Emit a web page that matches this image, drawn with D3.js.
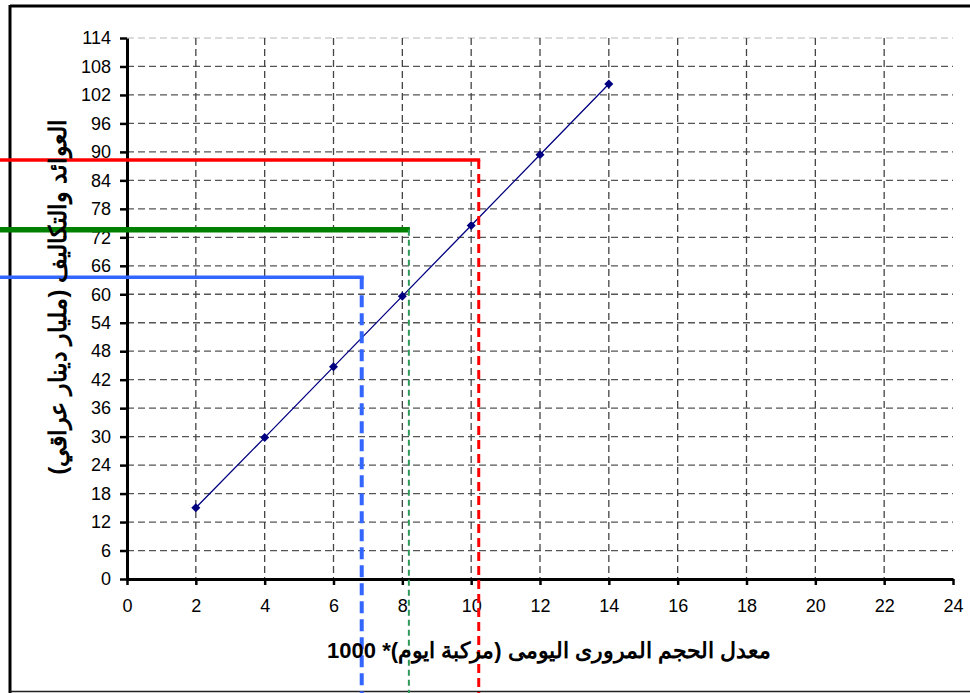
<!DOCTYPE html>
<html><head><meta charset="utf-8">
<script src="https://cdn.jsdelivr.net/npm/d3@7"></script>
<style>body{margin:0;background:#fff}svg{display:block}</style>
</head><body><svg id="c" width="970" height="693"></svg>
<script>
const xValues = [2, 4, 6, 8, 10, 12, 14];
const yValues = [15, 29.8, 44.7, 59.6, 74.5, 89.4, 104.3];
const xTicks = [0,2,4,6,8,10,12,14,16,18,20,22,24];
const yTicks = [0,6,12,18,24,30,36,42,48,54,60,66,72,78,84,90,96,102,108,114];
const guides = [
  {name:"blue",  x:6.82,  y:63.6},
  {name:"green", x:8.19,  y:73.6},
  {name:"red",   x:10.22, y:88.3}
];
const xTitle = "معدل الحجم المرورى اليومى (مركبة ايوم)* 1000";
const yTitle = "العوائد والتكاليف (مليار دينار عراقي)";

const svg = d3.select("#c");
const L=127, R=953, T=38, B=579;
const x = d3.scaleLinear().domain([0,24]).range([L,R]);
const y = d3.scaleLinear().domain([0,114]).range([B,T]);
const font = "'Liberation Sans', Arial, sans-serif";

// outer frame
svg.append("line").attr("x1",10).attr("x2",975).attr("y1",6).attr("y2",6).attr("stroke","#000").attr("stroke-width",3);
svg.append("line").attr("x1",10).attr("x2",10).attr("y1",5).attr("y2",693).attr("stroke","#000").attr("stroke-width",3);
svg.append("line").attr("x1",10).attr("x2",975).attr("y1",691.5).attr("y2",691.5).attr("stroke","#222").attr("stroke-width",1.5);

// grid
const g = svg.append("g");
g.selectAll(".hg").data(yTicks.filter(d=>d>0)).enter().append("line")
  .attr("x1",L).attr("x2",R).attr("y1",d=>y(d)).attr("y2",d=>y(d))
  .attr("stroke",d=>d===114?"#d0d0d0":"#555").attr("stroke-width",1.3).attr("stroke-dasharray","7,4");
g.selectAll(".vg").data(xTicks.filter(d=>d>0&&d<24)).enter().append("line")
  .attr("x1",d=>x(d)).attr("x2",d=>x(d)).attr("y1",T).attr("y2",B)
  .attr("stroke","#444").attr("stroke-width",1.3).attr("stroke-dasharray","7,4");

// axes
const xa = svg.append("g").attr("transform",`translate(0,${B})`)
  .call(d3.axisBottom(x).tickValues(xTicks).tickSize(6).tickPadding(14).tickSizeOuter(0));
const ya = svg.append("g").attr("transform",`translate(${L},0)`)
  .call(d3.axisLeft(y).tickValues(yTicks).tickSize(7).tickPadding(9).tickSizeOuter(0));
[xa,ya].forEach(a=>{
  a.select(".domain").attr("stroke","#000").attr("stroke-width",3);
  a.selectAll(".tick line").attr("stroke","#000").attr("stroke-width",2.5);
  a.selectAll("text").attr("font-family",font).attr("font-size",18).attr("fill","#000");
});

// series
svg.append("path").datum(xValues.map((d,i)=>[d,yValues[i]]))
  .attr("d",d3.line().x(d=>x(d[0])).y(d=>y(d[1])))
  .attr("fill","none").attr("stroke","#000080").attr("stroke-width",1.3);
svg.selectAll(".pt").data(xValues.map((d,i)=>[d,yValues[i]])).enter().append("path")
  .attr("transform",d=>`translate(${x(d[0])},${y(d[1])})`)
  .attr("d","M0,-4.5L4.5,0L0,4.5L-4.5,0Z").attr("fill","#000080");

// guide lines
const gs = {
  blue:{h:"#3366ff",hw:3.5,v:"#3366ff",vw:4,dash:"12,6"},
  green:{h:"#008000",hw:5.5,v:"#2e9a5a",vw:2,dash:"6,4"},
  red:{h:"#ff0000",hw:3.5,v:"#ff0000",vw:3,dash:"9,5"}
};
guides.forEach(d=>{
  const s=gs[d.name];
  svg.append("line").attr("x1",0).attr("x2",x(d.x)+s.vw/2).attr("y1",y(d.y)).attr("y2",y(d.y))
    .attr("stroke",s.h).attr("stroke-width",s.hw);
  svg.append("line").attr("x1",x(d.x)).attr("x2",x(d.x)).attr("y1",y(d.y)).attr("y2",693)
    .attr("stroke",s.v).attr("stroke-width",s.vw).attr("stroke-dasharray",s.dash);
});

// titles
svg.append("text").attr("x",549).attr("y",658).attr("text-anchor","middle").attr("direction","rtl")
  .attr("font-family",font).attr("font-weight","bold").attr("font-size",22).text(xTitle);
svg.append("text").attr("transform","translate(66,297) rotate(-90)").attr("text-anchor","middle").attr("direction","rtl")
  .attr("font-family",font).attr("font-weight","bold").attr("font-size",24).text(yTitle);
</script></body></html>
